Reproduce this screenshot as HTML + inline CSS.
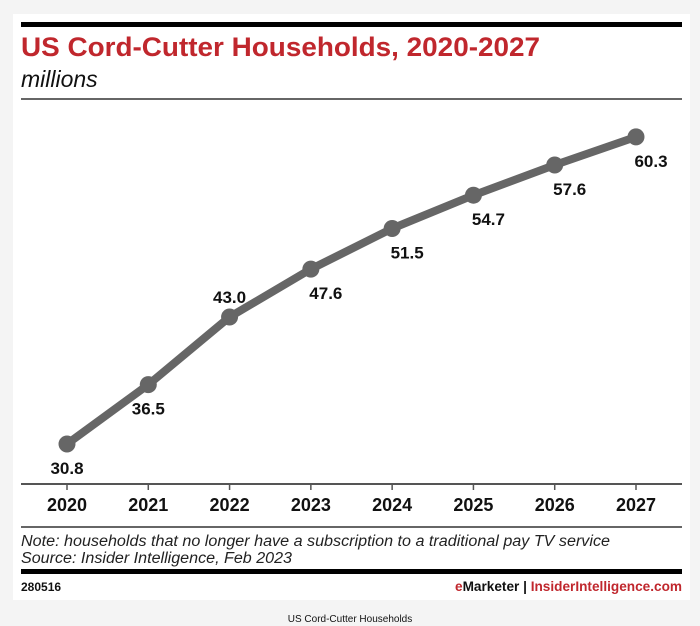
<!DOCTYPE html>
<html><head><meta charset="utf-8"><style>
body{margin:0;width:700px;height:626px;background:#f4f4f4;font-family:"Liberation Sans",sans-serif;overflow:hidden}
</style></head><body>
<svg width="700" height="626" style="position:absolute;left:0;top:0">
<rect x="13" y="14" width="677" height="586" fill="#fff"/>
<rect x="21" y="22" width="661" height="5" fill="#000"/>
<text x="21" y="56" font-size="27" font-weight="bold" fill="#c0272d" textLength="519" lengthAdjust="spacingAndGlyphs">US Cord-Cutter Households, 2020-2027</text>
<text x="21" y="87" font-size="23" font-style="italic" fill="#111">millions</text>
<rect x="21" y="98" width="661" height="2" fill="#666"/>
<rect x="21" y="483" width="661" height="2" fill="#555"/>
<g id="ticks"></g>
<g id="series"></g>
<rect x="21" y="526" width="661" height="2" fill="#666"/>
<text x="21" y="546" font-size="15.5" font-style="italic" fill="#222" textLength="589" lengthAdjust="spacingAndGlyphs">Note: households that no longer have a subscription to a traditional pay TV service</text>
<text x="21" y="563" font-size="15.5" font-style="italic" fill="#222" textLength="271" lengthAdjust="spacingAndGlyphs">Source: Insider Intelligence, Feb 2023</text>
<rect x="21" y="569" width="661" height="5" fill="#000"/>
<text x="21" y="591" font-size="12" font-weight="bold" fill="#111">280516</text>
<text x="455" y="591" font-size="13.5" font-weight="bold" textLength="227" lengthAdjust="spacingAndGlyphs"><tspan fill="#c0272d">e</tspan><tspan fill="#111">Marketer  |  </tspan><tspan fill="#c0272d">InsiderIntelligence.com</tspan></text>
<text x="350" y="622" font-size="10" text-anchor="middle" fill="#111">US Cord-Cutter Households</text>
</svg>
<script>
const years=["2020","2021","2022","2023","2024","2025","2026","2027"];
const values=[30.8,36.5,43.0,47.6,51.5,54.7,57.6,60.3];
const labelAbove=[false,false,true,false,false,false,false,false];
const NS="http://www.w3.org/2000/svg";
function xs(i){return 67+i*(636-67)/(years.length-1);}
function ys(v){return 444-(v-30.8)*10.41;}
const tg=document.getElementById('ticks'),sg=document.getElementById('series');
function mk(t,a,p){const e=document.createElementNS(NS,t);for(const k in a)e.setAttribute(k,a[k]);p.appendChild(e);return e;}
years.forEach((y,i)=>{
 const t=mk('line',{x1:xs(i),x2:xs(i),y1:484,y2:490,stroke:'#555','stroke-width':1.5},tg);
 
 
 const l=mk('text',{x:xs(i),y:511,'font-size':18,'font-weight':'bold','text-anchor':'middle',fill:'#111'},tg);
 l.textContent=y;
 
 
});
const pl=mk('polyline',{points:values.map((v,i)=>xs(i)+','+ys(v)).join(' '),fill:'none',stroke:'#666','stroke-width':8,'stroke-linejoin':'round'},sg);


values.forEach((v,i)=>{
 const c=mk('circle',{cx:xs(i),cy:ys(v),r:8.5,fill:'#666'},sg);
 
 
 const dx=i<3?0:15;
 const ty=labelAbove[i]?ys(v)-14:ys(v)+30;
 const t=mk('text',{x:xs(i)+dx,y:ty,'font-size':17,'font-weight':'bold','text-anchor':'middle',fill:'#111'},sg);
 t.textContent=v.toFixed(1);
 
 
});
</script>
</body></html>
